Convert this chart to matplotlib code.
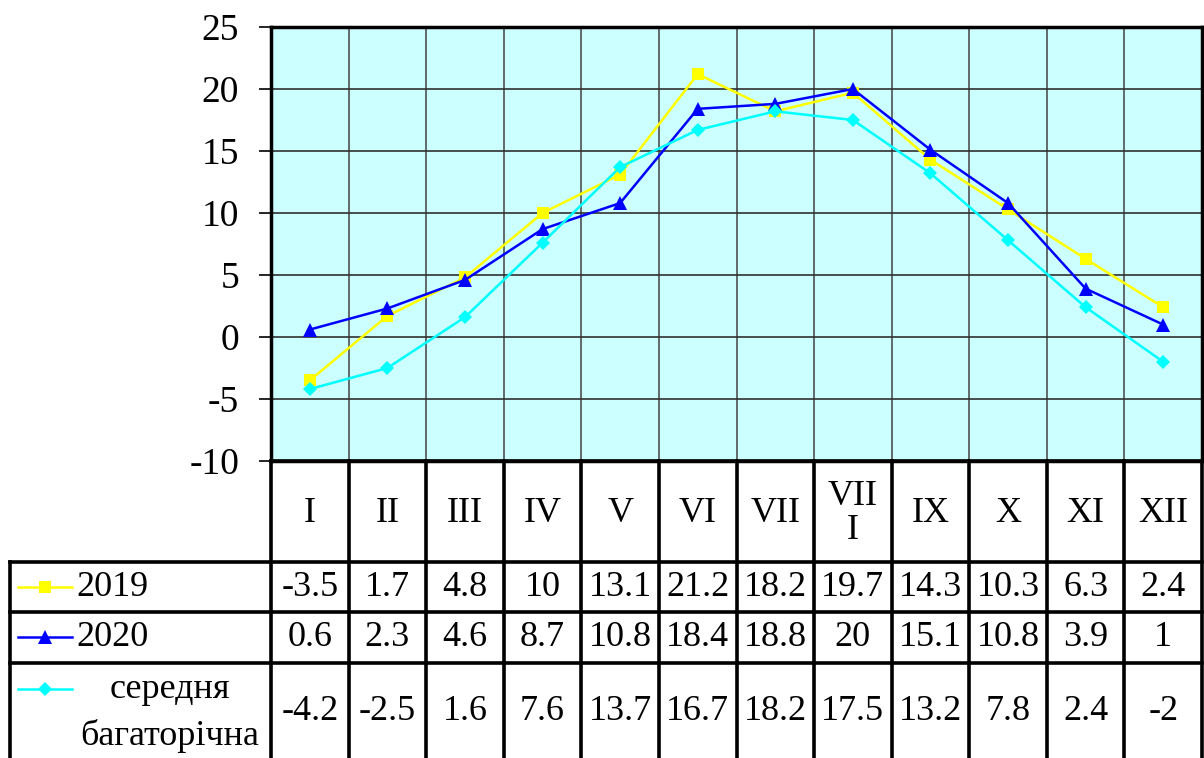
import numpy as np
import matplotlib.pyplot as plt

plt.rcParams['font.family'] = ['Liberation Serif', 'DejaVu Serif']
plt.rcParams['axes.unicode_minus'] = False

months = ["I", "II", "III", "IV", "V", "VI", "VII", "VII\nI", "IX", "X", "XI", "XII"]
t2019 = [-3.5, 1.7, 4.8, 10, 13.1, 21.2, 18.2, 19.7, 14.3, 10.3, 6.3, 2.4]
t2020 = [0.6, 2.3, 4.6, 8.7, 10.8, 18.4, 18.8, 20, 15.1, 10.8, 3.9, 1]
tmean = [-4.2, -2.5, 1.6, 7.6, 13.7, 16.7, 18.2, 17.5, 13.2, 7.8, 2.4, -2]
labels = ["2019", "2020", "середня\nбагаторічна"]

W, H = 1204, 758
fig = plt.figure(figsize=(W / 100, H / 100), dpi=100)

# plot area in pixel coordinates
px0, px1, py0, py1 = 271, 1202, 27, 461
ax = fig.add_axes([px0 / W, 1 - py1 / H, (px1 - px0) / W, (py1 - py0) / H])
ax.set_facecolor("#CCFFFF")
x = np.arange(len(months))
ax.set_xlim(-0.5, len(months) - 0.5)
ax.set_ylim(-10, 25)
ax.set_yticks(np.arange(-10, 26, 5))
ax.set_xticks([])
for v in np.arange(0.5, len(months) - 0.5, 1):
    ax.axvline(v, color="#505050", lw=1.2, zorder=1)
for v in np.arange(-5, 25, 5):
    ax.axhline(v, color="#303030", lw=1.2, zorder=1)
for s in ax.spines.values():
    s.set_linewidth(2.5)
ax.tick_params(axis="y", labelsize=27, length=9, width=1.2, pad=14)

styles = [
    dict(color="#FFFF00", marker="s", ms=9),
    dict(color="#0000FF", marker="^", ms=10),
    dict(color="#00FFFF", marker="D", ms=7),
]
series = [t2019, t2020, tmean]
for vals, st in zip(series, styles):
    ax.plot(x, vals, lw=1.8, zorder=3, markeredgewidth=0, **st)

# data table underneath
tb = fig.add_axes([0, 0, 1, 1], facecolor="none")
tb.set_xlim(0, W)
tb.set_ylim(H, 0)
tb.axis("off")
edges = np.linspace(px0, px1, len(months) + 1)
centers = (edges[:-1] + edges[1:]) / 2
row_edges = [461, 562, 612, 663, 770]
lx = 10
lw = 2.6

for e in edges:
    tb.plot([e, e], [row_edges[0], H], color="black", lw=lw)
tb.plot([lx, lx], [row_edges[1], H], color="black", lw=lw)
for r in row_edges[1:4]:
    tb.plot([lx, px1], [r, r], color="black", lw=lw)
tb.plot([px0, px1], [row_edges[0], row_edges[0]], color="black", lw=lw)

fs = 26
for c, m in zip(centers, months):
    tb.text(c, (row_edges[0] + row_edges[1]) / 2 + 2, m, ha="center", va="center",
            fontsize=fs, linespacing=1.05)

row_y = [587, 637, 712]
for vals, ry in zip(series, row_y):
    for c, v in zip(centers, vals):
        tb.text(c, ry, f"{v:g}", ha="center", va="center", fontsize=fs)

leg_y = [587, 637, 689]
for st, ly in zip(styles, leg_y):
    tb.plot([18, 72], [ly, ly], lw=1.8, color=st["color"])
    tb.plot([45], [ly], marker=st["marker"], color=st["color"], ms=st["ms"], markeredgewidth=0)
for ly, lab in zip(leg_y[:2], labels[:2]):
    tb.text(76, ly, lab, ha="left", va="center", fontsize=fs)
top, bottom = labels[2].split("\n")
tb.text(170, 689, top, ha="center", va="center", fontsize=fs)
tb.text(170, 736, bottom, ha="center", va="center", fontsize=fs)

fig.savefig("out.png", dpi=100)
